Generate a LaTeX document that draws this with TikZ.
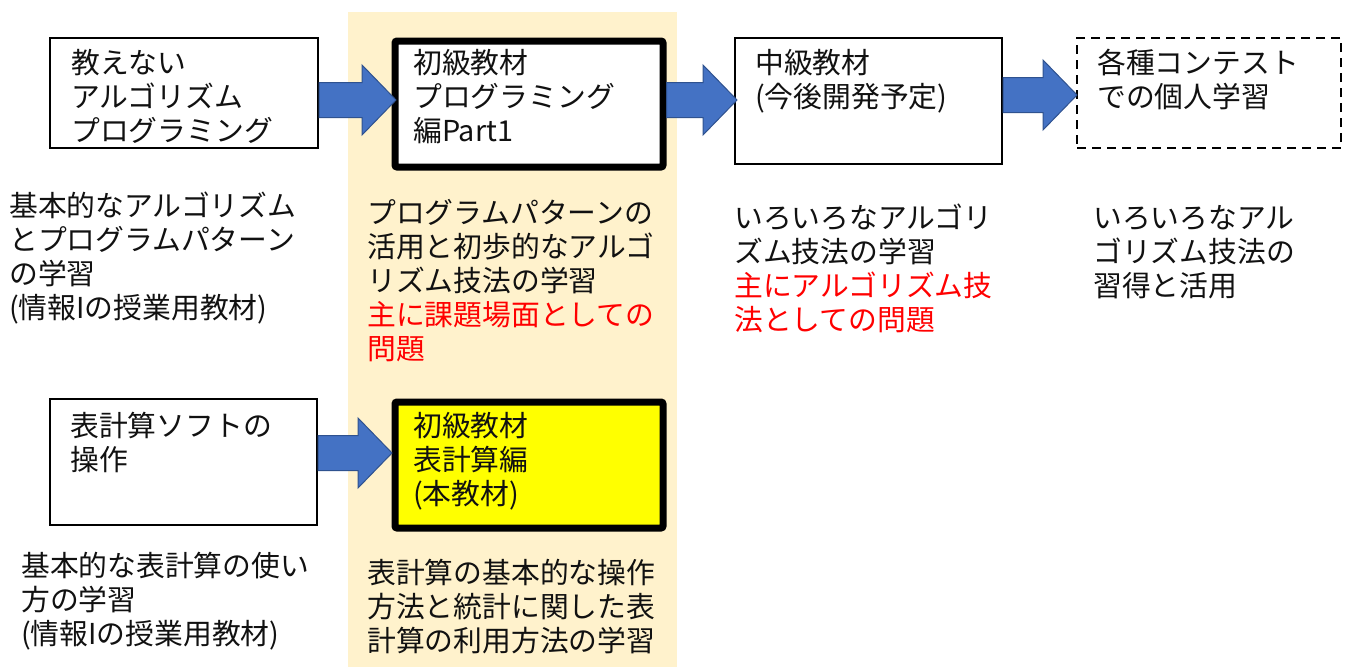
\documentclass[tikz,border=0pt]{standalone}
\usepackage{fontspec}
\setmainfont{Noto Sans CJK JP}
\usetikzlibrary{calc}
\definecolor{bandcol}{HTML}{FFF2CC}
\definecolor{arrowfill}{HTML}{4472C4}
\definecolor{arrowedge}{HTML}{2F528F}
\definecolor{hlyellow}{HTML}{FFFF00}
\definecolor{redtext}{HTML}{FF0000}
\definecolor{inktext}{HTML}{111111}
\newcommand{\blockarr}[2]{%
  \filldraw[barrow] let \p1=(#1.east), \p2=(#2) in
    (\x1,\y2+17.5pt) -- (\x2-34pt,\y2+17.5pt) -- (\x2-34pt,\y2+35pt) -- (\x2,\y2)
    -- (\x2-34pt,\y2-35pt) -- (\x2-34pt,\y2-17.5pt) -- (\x1,\y2-17.5pt) -- cycle;}
\begin{document}
\begin{tikzpicture}[x=1pt,y=-1pt,
  box/.style={draw=black, line width=2pt, fill=white, inner sep=0pt, anchor=north west},
  thickbox/.style={draw=black, line width=7pt, rounded corners=2pt, inner sep=0pt, anchor=north west},
  dashbox/.style={box, dash pattern=on 9pt off 6pt},
  txt/.style={anchor=north west, align=left, inner sep=0pt, text=inktext,
    font=\fontsize{28.8}{34}\selectfont},
  barrow/.style={fill=arrowfill, draw=arrowedge, line width=1pt}]
\useasboundingbox (0,0) rectangle (1345,667);
\fill[bandcol] (348,12) rectangle (677,667);
% boxes
\node[box, minimum width=268pt, minimum height=110pt] (A) at (49,37) {};
\node[thickbox, fill=white, minimum width=268pt, minimum height=126pt] (B) at (391.5,37.5) {};
\node[box, minimum width=267pt, minimum height=126pt] (C) at (734,37) {};
\node[dashbox, minimum width=264pt, minimum height=110pt] (D) at (1076,37) {};
\node[box, minimum width=267pt, minimum height=126pt] (E) at (49,398) {};
\node[thickbox, fill=hlyellow, minimum width=268pt, minimum height=126pt] (F) at (391.5,398.5) {};
% box texts
\node[txt] (At) at (71,49) {教えない\\アルゴリズム\\プログラミング};
\node[txt] (Bt) at (413,49) {初級教材\\プログラミング\\編Part1};
\node[txt] (Ct) at (755,49) {中級教材\\(今後開発予定)};
\node[txt] (Dt) at (1097,49) {各種コンテスト\\での個人学習};
\node[txt] (Et) at (70,412) {表計算ソフトの\\操作};
\node[txt] (Ft) at (413,412) {初級教材\\表計算編\\(本教材)};
% descriptions
\node[txt] (Ad) at (9,192) {基本的なアルゴリズム\\とプログラムパターン\\の学習\\(情報Iの授業用教材)};
\node[txt] (Bd) at (367,199) {プログラムパターンの\\活用と初歩的なアルゴ\\リズム技法の学習\\\textcolor{redtext}{主に課題場面としての}\\\textcolor{redtext}{問題}};
\node[txt] (Cd) at (734,204) {いろいろなアルゴリ\\ズム技法の学習\\\textcolor{redtext}{主にアルゴリズム技}\\\textcolor{redtext}{法としての問題}};
\node[txt] (Dd) at (1093,205) {いろいろなアル\\ゴリズム技法の\\習得と活用};
\node[txt] (Ed) at (21,552) {基本的な表計算の使い\\方の学習\\(情報Iの授業用教材)};
\node[txt] (Fd) at (367,559) {表計算の基本的な操作\\方法と統計に関した表\\計算の利用方法の学習};
% arrow tips
\coordinate (t1) at (396,100);
\coordinate (t2) at (737,100);
\coordinate (t3) at (1077,95);
\coordinate (t4) at (392,453);
\blockarr{A}{t1}
\blockarr{B}{t2}
\blockarr{C}{t3}
\blockarr{E}{t4}
\end{tikzpicture}
\end{document}
